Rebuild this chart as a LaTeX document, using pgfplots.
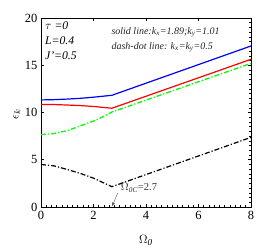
\documentclass[border=0pt]{standalone}
\usepackage{pgfplots}
\pgfplotsset{compat=1.18}
\usepackage{fontspec}
\setmainfont{Liberation Serif}
\begin{document}
\begin{tikzpicture}
\begin{axis}[
  scale only axis, width=210pt, height=189pt,
  xmin=0, xmax=8, ymin=0, ymax=20,
  xtick={0,2,4,6,8}, ytick={0,5,10,15,20},
  minor x tick num=9, minor y tick num=9,
  tick align=inside, tick pos=both,
  major tick length=3pt, minor tick length=1.5pt,
  every tick/.style={black, line width=0.5pt},
  axis line style={line width=0.8pt},
  tick label style={font=\fontsize{12.5}{13}\selectfont},
  /pgf/number format/assume math mode=true,
  xticklabel style={yshift=-1pt},
  xlabel={$\Omega_{\mathit{0}}$},
  label style={font=\fontsize{13}{14}\selectfont},
  xlabel style={at={(axis description cs:0.5,0)}, anchor=center, yshift=-33pt},
  clip=false,
]
\addplot[blue, line width=1.2pt] coordinates {(0,11.33) (0.5,11.36) (1,11.42) (1.5,11.5) (2,11.62) (2.7,11.82) (8,17.04)};
\addplot[red, line width=1.2pt] coordinates {(0,10.86) (0.5,10.84) (1,10.79) (1.5,10.73) (2,10.64) (2.7,10.45) (8,15.63)};
\addplot[green, line width=1.3pt, dash pattern=on 5pt off 2pt on 1.2pt off 2pt] coordinates {(0,7.65) (0.5,7.78) (1,8.08) (1.5,8.58) (2,9.1) (2.4,9.6) (2.7,10.05) (8,15.2)};
\addplot[black, line width=1.2pt, dash pattern=on 5pt off 2pt on 1.2pt off 2pt] coordinates {(0,4.5) (0.5,4.35) (1,3.97) (1.5,3.55) (2,3.05) (2.7,2.15) (8,7.37)};
\draw[-latex, gray!70!black, line width=0.4pt] (axis cs:2.92,1.45) -- (axis cs:2.7,0.05);
\node[anchor=west, gray!40!black, font=\fontsize{10.5}{12}\selectfont, inner sep=0pt] at (axis cs:3.04,2.05) {$\Omega_{\mathit{0C}}$=2.7};
\node[anchor=north west, font=\fontsize{11.7}{13}\selectfont\itshape, align=left, inner sep=0pt] at (axis cs:0.15,19.6) {$\tau$ =0\\[2pt]L=0.4\\[2pt]J'=0.5};
\node[anchor=west, font=\fontsize{10}{12}\selectfont\itshape, gray!30!black, inner sep=0pt] at (axis cs:2.68,18.5) {solid line:k\textsubscript{x}=1.89;k\textsubscript{y}=1.01};
\node[anchor=west, font=\fontsize{10}{12}\selectfont\itshape, gray!30!black, inner sep=0pt] at (axis cs:2.68,16.9) {dash-dot line: k\textsubscript{x}=k\textsubscript{y}=0.5};
\node[rotate=90, anchor=center, font=\fontsize{13}{14}\selectfont, inner sep=0pt] at (rel axis cs:-0.115,0.49) {$\epsilon_k$};
\end{axis}
\pgfresetboundingbox
\path[use as bounding box] (-41pt,-42pt) rectangle (236pt,207pt);
\end{tikzpicture}
\end{document}
